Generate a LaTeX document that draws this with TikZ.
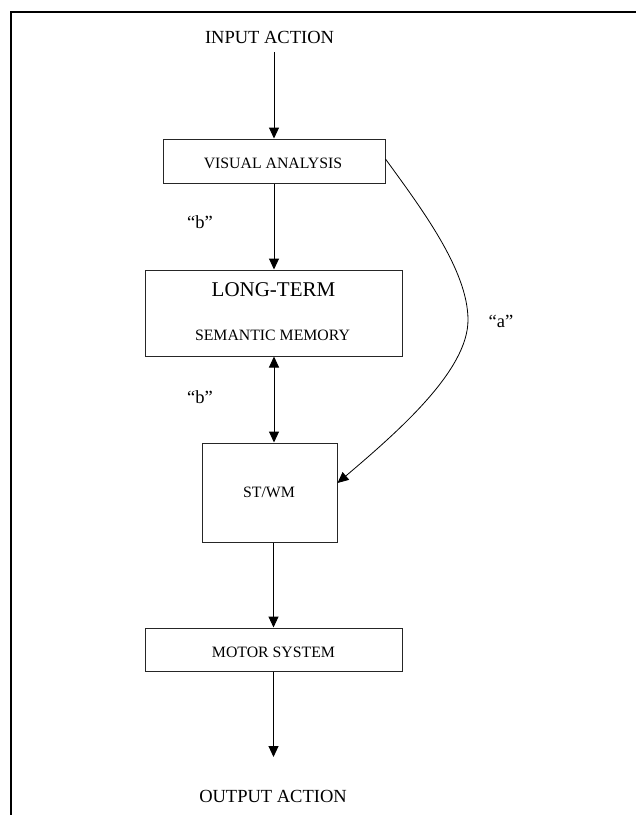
\documentclass[tikz,border=0pt]{standalone}
\usepackage{fontspec}
\setmainfont{Liberation Serif}
\usetikzlibrary{arrows.meta,calc}
\begin{document}
\begin{tikzpicture}[x=1pt,y=-1pt,
  boxstyle/.style={draw=black!85,line width=1pt,rectangle,inner sep=0pt},
  arr/.style={line width=1pt,-{Triangle[length=11pt,width=10pt]}},
  darr/.style={line width=1pt,{Triangle[length=11pt,width=10pt]}-{Triangle[length=11pt,width=10pt]}},
  big/.style={font=\fontsize{18.5}{22}\selectfont,anchor=base,inner sep=0pt},
  mid/.style={font=\fontsize{15.8}{19}\selectfont,anchor=base,inner sep=0pt},
  huge/.style={font=\fontsize{21}{25}\selectfont,anchor=base,inner sep=0pt}]
\useasboundingbox (0,0) rectangle (636,815);
\fill[white] (0,0) rectangle (636,815);
\draw[line width=2pt] (11,815) -- (11,12) -- (636,12);

% boxes
\node[boxstyle,minimum width=222pt,minimum height=44pt] (va) at (274,161) {};
\node[boxstyle,minimum width=257pt,minimum height=86pt] (lt) at (273.5,313) {};
\node[boxstyle,minimum width=135pt,minimum height=99pt] (st) at (269.5,492.5) {};
\node[boxstyle,minimum width=257pt,minimum height=43pt] (ms) at (273.5,649.5) {};

% texts
\node[big] (in) at (269.5,43) {INPUT ACTION};
\node[mid] (vat) at (273,168) {VISUAL ANALYSIS};
\node[huge] (ltt) at (273.5,296) {LONG-TERM};
\node[mid] (smt) at (272.5,340) {SEMANTIC MEMORY};
\node[mid] (stt) at (269,497) {ST/WM};
\node[mid] (mst) at (273.5,657) {MOTOR SYSTEM};
\node[big] (out) at (273,802) {OUTPUT ACTION};
\node[big] (b1) at (200,228) {“b”};
\node[big] (b2) at (200,403) {“b”};
\node[big] (a1) at (501,327) {“a”};

\coordinate (instart) at (274,52);
\coordinate (outtip) at (273.5,757);
\coordinate (bend) at (468,320);

% connectors
\draw[arr] (instart) -- (va.north);
\draw[arr] (va.south) -- (va.south |- lt.north);
\draw[darr] (va.south |- lt.south) -- (va.south |- st.north);
\draw[arr] (ms.north |- st.south) -- (ms.north);
\draw[arr] (ms.south) -- (outtip);
\draw[line width=0.8pt,-{Triangle[length=11pt,width=10pt]}]
  ($(va.east)+(0,-2)$) .. controls (421,208) and (468,270) .. (bend)
  .. controls (468,370) and (400,430) .. ($(st.east)+(0,-9.5)$);
\end{tikzpicture}
\end{document}
